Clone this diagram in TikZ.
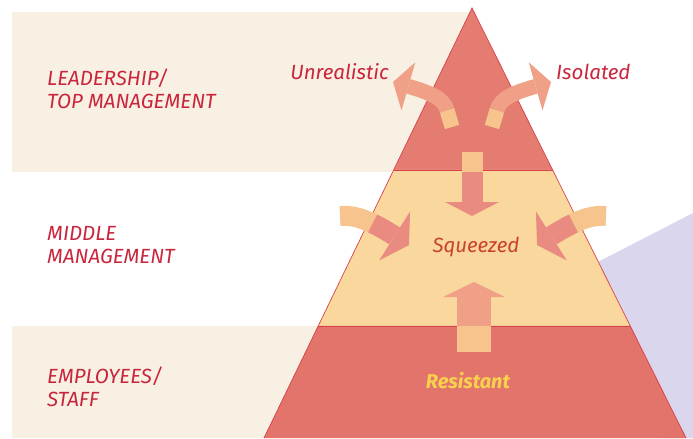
\documentclass[tikz,border=0pt]{standalone}
\usepackage{fontspec}
\setmainfont{Fira Sans}
\usetikzlibrary{arrows.meta,calc}

\definecolor{bgbeige}{HTML}{F8F0E3}
\definecolor{lavender}{HTML}{DAD6EE}
\definecolor{topred}{HTML}{E47C72}
\definecolor{midyellow}{HTML}{FAD79C}
\definecolor{lowred}{HTML}{E2746B}
\definecolor{edgered}{HTML}{D8404A}
\definecolor{textred}{HTML}{C9253C}
\definecolor{sqred}{HTML}{C8432E}
\definecolor{resyellow}{HTML}{F8D24E}
\definecolor{arrowtail}{HTML}{F6C48C}
\definecolor{arrowhead}{HTML}{F1A088}
\definecolor{arrowpink}{HTML}{EA8B82}

\begin{document}
\begin{tikzpicture}[x=0.03cm,y=-0.03cm,
  every node/.style={inner sep=0pt, font=\itshape\fontsize{17.5}{20}\selectfont},
  lbl/.style={text=textred, align=left, anchor=west},
  tailpart/.style={draw=arrowtail},
  tophead/.style={draw=arrowhead, -{Triangle[width=1.5cm 0, length=0.48cm 0, line width=0pt]}},
  sidehead/.style={draw=arrowpink, -{Triangle[width=1.74cm 0, length=0.51cm 0, line width=0pt]}}]
  \useasboundingbox (0,0) rectangle (693,438);

  % background bands
  \fill[bgbeige] (12,12) rectangle (472,172);
  \fill[bgbeige] (12,326) rectangle (472,438);
  \fill[lavender] (590,266) -- (693,213) -- (693,438) -- (660,438) -- cycle;

  % pyramid
  \coordinate (apex) at (472,8);
  \coordinate (bl) at (264,438);
  \coordinate (br) at (686,438);
  \coordinate (l1) at ($(apex)!0.3767!(bl)$);
  \coordinate (r1) at ($(apex)!0.3767!(br)$);
  \coordinate (l2) at ($(apex)!0.7395!(bl)$);
  \coordinate (r2) at ($(apex)!0.7395!(br)$);
  \fill[topred] (apex) -- (l1) -- (r1) -- cycle;
  \fill[midyellow] (l1) -- (l2) -- (r2) -- (r1) -- cycle;
  \fill[lowred] (l2) -- (bl) -- (br) -- (r2) -- cycle;
  \draw[edgered, line width=0.6pt] (bl) -- (apex) -- (br);
  \draw[edgered, line width=0.4pt] (l1) -- (r1) (l2) -- (r2);

  % labels
  \node[lbl] (lead) at (47,89) {LEADERSHIP/\\TOP MANAGEMENT};
  \node[lbl] (middle) at (47,245) {MIDDLE\\MANAGEMENT};
  \node[lbl] (staff) at (47,387) {EMPLOYEES/\\STAFF};
  \node[text=textred, anchor=base east] (unreal) at (389,79) {Unrealistic};
  \node[text=textred, anchor=base west] (isol) at (556,79) {Isolated};
  \node[text=sqred, anchor=base] (sq) at (476,252) {Squeezed};
  \node[text=resyellow, anchor=base, font=\itshape\bfseries\fontsize{17}{20}\selectfont] (res) at (468,388) {Resistant};

  % arrows out of the top
  \coordinate (tl0) at (452,127);
  \coordinate (tl1) at (447,110);
  \coordinate (tl2) at (393,82);
  \draw[tailpart, line width=0.45cm] (tl0) -- (tl1);
  \draw[tophead, line width=0.45cm] (tl1) .. controls (444,98) and (428,92) .. (tl2);
  \coordinate (tr0) at (492,127);
  \coordinate (tr1) at (497,110);
  \coordinate (tr2) at (551,82);
  \draw[tailpart, line width=0.45cm] (tr0) -- (tr1);
  \draw[tophead, line width=0.45cm] (tr1) .. controls (500,98) and (516,92) .. (tr2);

  % arrows into the middle
  \coordinate (d0) at (472,152);
  \coordinate (d1) at (472,172);
  \coordinate (d2) at (472,216);
  \draw[tailpart, line width=0.63cm] (d0) -- (d1);
  \draw[draw=arrowpink, line width=0.63cm, -{Triangle[width=1.62cm 0, length=0.42cm 0, line width=0pt]}] (d1) -- (d2);
  \coordinate (u0) at (474,352);
  \coordinate (u1) at (474,326);
  \coordinate (u2) at (474,282);
  \draw[tailpart, line width=1.02cm] (u0) -- (u1);
  \draw[draw=arrowhead, line width=1.02cm, -{Triangle[width=1.86cm 0, length=0.45cm 0, line width=0pt]}] (u1) -- (u2);
  \coordinate (ml0) at (340,216);
  \coordinate (ml1) at (372.6,223.4);
  \coordinate (ml2) at (409,245);
  \draw[tailpart, line width=0.6cm] (ml0) .. controls (351,215) and (361.5,218) .. (ml1);
  \draw[sidehead, line width=0.6cm] (ml1) .. controls (383.75,228.75) and (395.5,236.5) .. (ml2);
  \coordinate (mr0) at (606,216);
  \coordinate (mr1) at (573.4,223.4);
  \coordinate (mr2) at (537,245);
  \draw[tailpart, line width=0.6cm] (mr0) .. controls (595,215) and (584.5,218) .. (mr1);
  \draw[sidehead, line width=0.6cm] (mr1) .. controls (562.25,228.75) and (550.5,236.5) .. (mr2);
\end{tikzpicture}
\end{document}
